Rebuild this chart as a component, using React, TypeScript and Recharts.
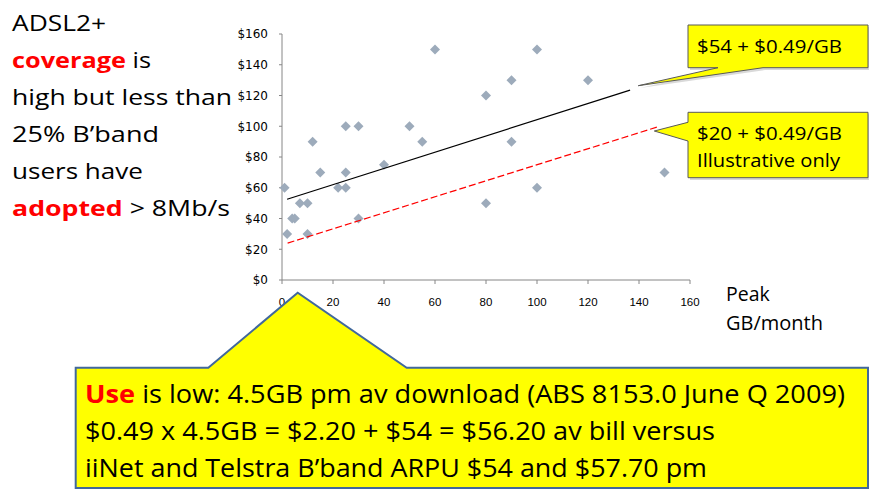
import { ScatterChart, Scatter, XAxis, YAxis } from 'recharts'

// Peak GB/month vs monthly price ($)
const peakGb = [60, 12, 25, 30, 50, 55, 40, 1, 15, 25, 22, 25, 7, 10, 4, 5, 2, 10, 30, 100, 90, 120, 80, 90, 150, 80, 100]
const price = [150, 90, 100, 100, 100, 90, 75, 60, 70, 70, 60, 60, 50, 50, 40, 40, 30, 30, 40, 150, 130, 130, 120, 90, 70, 50, 60]

// fitted line ($54 + $0.49/GB) and illustrative line ($20 + $0.49/GB), end points
const fitX = [2, 136.5]
const fitY = [52.5, 123.5]
const illX = [2.2, 147.5]
const illY = [24, 99.7]

const xTicks = [0, 20, 40, 60, 80, 100, 120, 140, 160]
const yTicks = [0, 20, 40, 60, 80, 100, 120, 140, 160]

const points = peakGb.map((x, i) => ({ x, y: price[i] }))
const fitLine = fitX.map((x, i) => ({ x, y: fitY[i] }))
const illLine = illX.map((x, i) => ({ x, y: illY[i] }))

const Diamond = (props: any) => {
  const { cx, cy } = props
  return <path d={`M${cx},${cy - 5}L${cx + 5},${cy}L${cx},${cy + 5}L${cx - 5},${cy}Z`} fill="#9DABBB" />
}

const font = '"Open Sans", sans-serif'

export default function App() {
  return (
    <div style={{ position: 'absolute', left: 0, top: 0, width: 869, height: 491, background: '#fff' }}>
      <ScatterChart width={869} height={491} margin={{ top: 34, right: 179, bottom: 181, left: 222 }}>
        <XAxis
          type="number"
          dataKey="x"
          domain={[0, 160]}
          ticks={xTicks}
          height={30}
          tickSize={4}
          tickMargin={14}
          axisLine={{ stroke: '#868686' }}
          tickLine={{ stroke: '#868686' }}
          tick={{ fill: '#000', fontSize: 11.5, fontFamily: '"Liberation Sans", sans-serif' }}
        />
        <YAxis
          type="number"
          dataKey="y"
          domain={[0, 160]}
          ticks={yTicks}
          width={60}
          tickSize={3}
          tickMargin={11}
          axisLine={{ stroke: '#868686' }}
          tickLine={{ stroke: '#868686' }}
          tickFormatter={(v: number) => '$' + v}
          tick={{ fill: '#000', fontSize: 12, fontFamily: '"DejaVu Sans", sans-serif' }}
        />
        <Scatter data={points} shape={Diamond} isAnimationActive={false} />
        <Scatter data={fitLine} line={{ stroke: '#000', strokeWidth: 1.2 }} shape={() => <g />} isAnimationActive={false} />
        <Scatter
          data={illLine}
          line={{ stroke: '#FF0000', strokeWidth: 1.2, strokeDasharray: '7 3' }}
          shape={() => <g />}
          isAnimationActive={false}
        />
      </ScatterChart>

      <svg width={869} height={491} style={{ position: 'absolute', left: 0, top: 0, pointerEvents: 'none' }}>
        {/* left hand note */}
        <g fontFamily={font} fontSize={22} fill="#000">
          <text x={12} y={31} textLength={94} lengthAdjust="spacingAndGlyphs">ADSL2+</text>
          <text x={12} y={68} textLength={139} lengthAdjust="spacingAndGlyphs" style={{ whiteSpace: 'pre' }}>
            <tspan fill="#FF0000" fontWeight="bold">coverage</tspan>
            <tspan> is</tspan>
          </text>
          <text x={12} y={105} textLength={220} lengthAdjust="spacingAndGlyphs">high but less than</text>
          <text x={12} y={142} textLength={147} lengthAdjust="spacingAndGlyphs">25% B’band</text>
          <text x={12} y={179} textLength={131} lengthAdjust="spacingAndGlyphs">users have</text>
          <text x={12} y={216} textLength={218} lengthAdjust="spacingAndGlyphs" style={{ whiteSpace: 'pre' }}>
            <tspan fill="#FF0000" fontWeight="bold">adopted</tspan>
            <tspan> &gt; 8Mb/s</tspan>
          </text>
        </g>

        {/* x axis title */}
        <g fontFamily={font} fontSize={19.5} fill="#000">
          <text x={726} y={301}>Peak</text>
          <text x={726} y={330} textLength={97} lengthAdjust="spacingAndGlyphs">GB/month</text>
        </g>

        {/* line callouts */}
        <path d="M690,27L870,27L870,70L765,70L640,88L720,70L690,70Z" fill="#BFBFBF" opacity={0.6} />
        <path d="M688,25L868,25L868,67.7L763,67.7L638.3,85.7L718,67.7L688,67.7Z" fill="#FFFF00" stroke="#595959" strokeWidth={1} />
        <path d="M690,114.3L870,114.3L870,180L690,180Z" fill="#BFBFBF" opacity={0.6} />
        <path d="M688,112.3L868,112.3L868,177.7L688,177.7L688,141L654.3,131L688,122.3Z" fill="#FFFF00" stroke="#595959" strokeWidth={1} />
        <g fontFamily={font} fontSize={19} fill="#000">
          <text x={697} y={53} textLength={145} lengthAdjust="spacingAndGlyphs">$54 + $0.49/GB</text>
          <text x={697} y={140} textLength={145} lengthAdjust="spacingAndGlyphs">$20 + $0.49/GB</text>
          <text x={697} y={167} textLength={143} lengthAdjust="spacingAndGlyphs">Illustrative only</text>
        </g>

        {/* usage callout */}
        <path
          d="M75.7,367.7L208.3,367.7L297.7,292.7L406.7,367.7L868,367.7L868,488L75.7,488Z"
          fill="#FFFF00"
          stroke="#41689C"
          strokeWidth={2}
        />
        <g fontFamily={font} fontSize={25} fill="#000" style={{ whiteSpace: 'pre' }}>
          <text x={85} y={403} textLength={760} lengthAdjust="spacingAndGlyphs">
            <tspan fill="#FF0000" fontWeight="bold">Use</tspan>
            <tspan> is low: 4.5GB pm av download (ABS 8153.0 June Q 2009)</tspan>
          </text>
          <text x={85} y={440} textLength={630} lengthAdjust="spacingAndGlyphs">$0.49 x 4.5GB = $2.20 + $54 = $56.20  av bill versus</text>
          <text x={85} y={477} textLength={622} lengthAdjust="spacingAndGlyphs">iiNet and Telstra B’band ARPU $54 and $57.70 pm</text>
        </g>
      </svg>
    </div>
  )
}
